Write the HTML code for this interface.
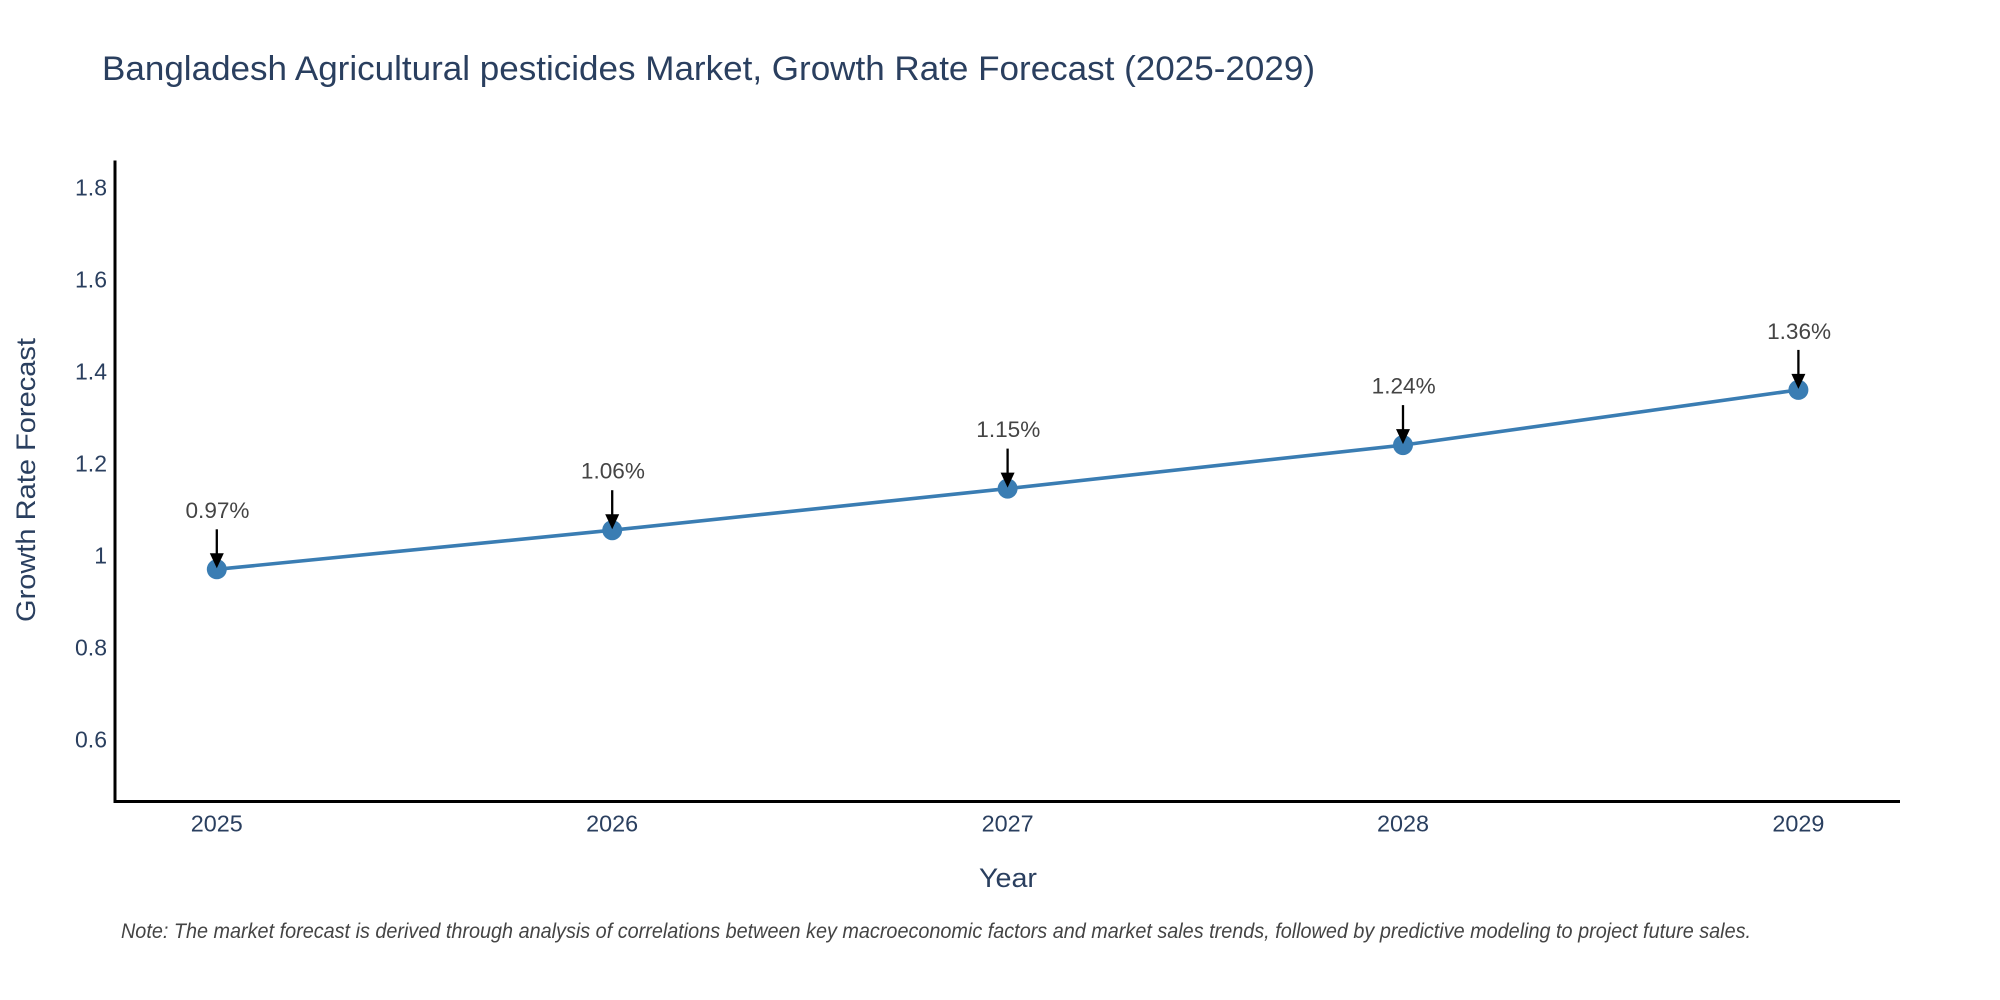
<!DOCTYPE html>
<html>
<head>
<meta charset="utf-8">
<style>
  html, body { margin: 0; padding: 0; background: #ffffff; }
  body { width: 2000px; height: 1000px; overflow: hidden; }
  svg { display: block; }
  text { font-family: "Liberation Sans", "DejaVu Sans", sans-serif; }
</style>
</head>
<body>
<svg width="2000" height="1000" viewBox="0 0 2000 1000" xmlns="http://www.w3.org/2000/svg">
  <rect x="0" y="0" width="2000" height="1000" fill="#ffffff"/>

  <!-- Title -->
  <text x="102" y="80" font-size="34" fill="#2a3f5f" textLength="1213" lengthAdjust="spacingAndGlyphs">Bangladesh Agricultural pesticides Market, Growth Rate Forecast (2025-2029)</text>

  <!-- Y tick labels -->
  <g font-size="23" fill="#2a3f5f" text-anchor="end">
    <text x="107" y="195.5">1.8</text>
    <text x="107" y="287.5">1.6</text>
    <text x="107" y="379.5">1.4</text>
    <text x="107" y="471.5">1.2</text>
    <text x="107" y="563.5">1</text>
    <text x="107" y="655.5">0.8</text>
    <text x="107" y="747.5">0.6</text>
  </g>

  <!-- X tick labels -->
  <g font-size="23" fill="#2a3f5f" text-anchor="middle">
    <text x="216.8" y="831.7" textLength="52" lengthAdjust="spacingAndGlyphs">2025</text>
    <text x="612.2" y="831.7" textLength="52" lengthAdjust="spacingAndGlyphs">2026</text>
    <text x="1007.6" y="831.7" textLength="52" lengthAdjust="spacingAndGlyphs">2027</text>
    <text x="1403.0" y="831.7" textLength="52" lengthAdjust="spacingAndGlyphs">2028</text>
    <text x="1798.4" y="831.7" textLength="52" lengthAdjust="spacingAndGlyphs">2029</text>
  </g>

  <!-- Axis titles -->
  <text x="1008" y="887" font-size="27" fill="#2a3f5f" text-anchor="middle" textLength="58" lengthAdjust="spacingAndGlyphs">Year</text>
  <text transform="translate(35,480) rotate(-90)" x="0" y="0" font-size="27" fill="#2a3f5f" text-anchor="middle" textLength="284" lengthAdjust="spacingAndGlyphs">Growth Rate Forecast</text>

  <!-- Axis lines -->
  <line x1="115" y1="160.5" x2="115" y2="803" stroke="#000" stroke-width="3"/>
  <line x1="113.5" y1="801.5" x2="1900" y2="801.5" stroke="#000" stroke-width="3"/>

  <!-- Series line -->
  <polyline points="216.8,569.3 612.2,530.2 1007.6,488.6 1403.0,445.1 1798.4,389.9" fill="none" stroke="#3a7db3" stroke-width="3.6" stroke-linejoin="round"/>

  <!-- Markers -->
  <g fill="#3a7db3">
    <circle cx="216.8" cy="569.3" r="10"/>
    <circle cx="612.2" cy="530.2" r="10"/>
    <circle cx="1007.6" cy="488.6" r="10"/>
    <circle cx="1403.0" cy="445.1" r="10"/>
    <circle cx="1798.4" cy="389.9" r="10"/>
  </g>

  <!-- Annotation arrows -->
  <g stroke="#000" stroke-width="2.3">
    <line x1="216.8" y1="529.3" x2="216.8" y2="555"/>
    <line x1="612.2" y1="490.2" x2="612.2" y2="516"/>
    <line x1="1007.6" y1="448.6" x2="1007.6" y2="474.4"/>
    <line x1="1403.0" y1="405.1" x2="1403.0" y2="430.9"/>
    <line x1="1798.4" y1="349.9" x2="1798.4" y2="375.7"/>
  </g>
  <g fill="#000">
    <polygon points="209.8,553.3 223.8,553.3 216.8,568.3"/>
    <polygon points="605.2,514.2 619.2,514.2 612.2,529.2"/>
    <polygon points="1000.6,472.6 1014.6,472.6 1007.6,487.6"/>
    <polygon points="1396.0,429.1 1410.0,429.1 1403.0,444.1"/>
    <polygon points="1791.4,373.9 1805.4,373.9 1798.4,388.9"/>
  </g>

  <!-- Annotation labels -->
  <g font-size="22" fill="#444" text-anchor="middle">
    <text x="217.5" y="517.8" textLength="64" lengthAdjust="spacingAndGlyphs">0.97%</text>
    <text x="612.9" y="478.7" textLength="64" lengthAdjust="spacingAndGlyphs">1.06%</text>
    <text x="1008.3" y="437.1" textLength="64" lengthAdjust="spacingAndGlyphs">1.15%</text>
    <text x="1403.7" y="393.6" textLength="64" lengthAdjust="spacingAndGlyphs">1.24%</text>
    <text x="1799.1" y="338.9" textLength="64" lengthAdjust="spacingAndGlyphs">1.36%</text>
  </g>

  <!-- Note -->
  <text x="121" y="938" font-size="21" font-style="italic" fill="#444" textLength="1630" lengthAdjust="spacingAndGlyphs">Note: The market forecast is derived through analysis of correlations between key macroeconomic factors and market sales trends, followed by predictive modeling to project future sales.</text>
</svg>
</body>
</html>
